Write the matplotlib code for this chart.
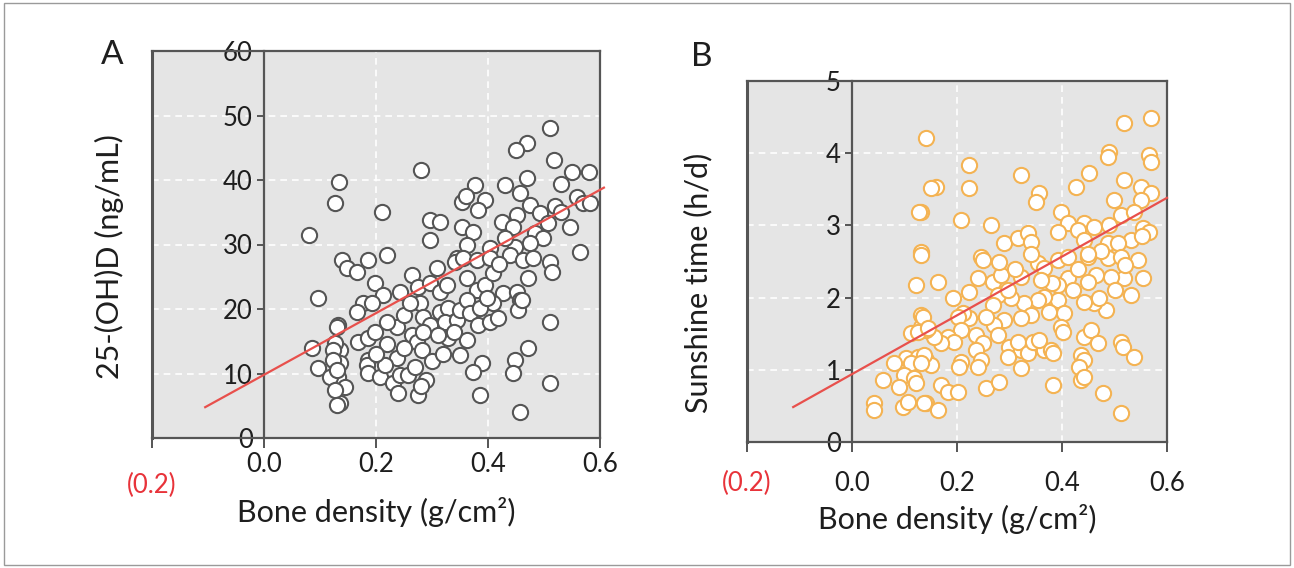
import matplotlib
matplotlib.use('Agg')

import matplotlib.pyplot as plt
import matplotlib.patches as patches
import matplotlib.transforms as mtransforms
import numpy as np

plt.rcParams['font.family'] = ['Lato', 'DejaVu Sans']

# panel A: bone density vs 25-(OH)D
a_x = [0.511, 0.47, 0.45, 0.518, 0.55, 0.58, 0.53, 0.28, 0.134, 0.127, 0.21, 0.296, 0.314, 0.296,
       0.377, 0.395, 0.354, 0.382, 0.43, 0.47, 0.457, 0.475, 0.425, 0.452, 0.445, 0.354, 0.373,
       0.362, 0.404, 0.493, 0.507, 0.546, 0.559, 0.57, 0.582, 0.484, 0.498, 0.475, 0.448, 0.564,
       0.22, 0.14, 0.186, 0.345, 0.148, 0.166, 0.264, 0.309, 0.341, 0.355, 0.38, 0.404, 0.44,
       0.462, 0.48, 0.511, 0.514, 0.471, 0.198, 0.212, 0.243, 0.275, 0.296, 0.314, 0.327, 0.362,
       0.38, 0.395, 0.409, 0.427, 0.452, 0.457, 0.454, 0.511, 0.471, 0.448, 0.445, 0.511, 0.457,
       0.389, 0.373, 0.386, 0.35, 0.275, 0.177, 0.193, 0.166, 0.132, 0.136, 0.136, 0.132, 0.145,
       0.136, 0.168, 0.186, 0.198, 0.186, 0.184, 0.186, 0.207, 0.23, 0.243, 0.257, 0.237, 0.264,
       0.273, 0.237, 0.279, 0.284, 0.296, 0.284, 0.314, 0.329, 0.323, 0.345, 0.35, 0.362, 0.368,
       0.382, 0.404, 0.418, 0.409, 0.386, 0.329, 0.362, 0.282, 0.216, 0.096, 0.086, 0.096, 0.13,
       0.127, 0.123, 0.123, 0.118, 0.13, 0.127, 0.13, 0.08, 0.398, 0.25, 0.26, 0.22, 0.30, 0.32,
       0.27, 0.25, 0.31, 0.34, 0.22, 0.20, 0.24, 0.29, 0.28, 0.52, 0.53, 0.42, 0.43, 0.36, 0.46]
a_y = [48.1, 45.7, 44.6, 43.1, 41.2, 41.2, 39.4, 41.5, 39.7, 36.4, 35.0, 33.8, 33.5, 30.7,
       39.2, 36.9, 36.6, 35.3, 39.2, 40.3, 38.0, 36.1, 33.5, 34.6, 32.7, 32.7, 31.9,
       29.9, 29.5, 34.9, 33.3, 32.7, 37.4, 36.4, 36.4, 31.8, 31.0, 30.2, 29.6, 28.8,
       28.4, 27.6, 27.6, 27.9, 26.4, 25.7, 25.3, 26.4, 27.3, 27.9, 27.6, 27.9, 28.4,
       27.6, 27.9, 27.3, 25.7, 24.8, 24.0, 22.2, 22.6, 23.4, 24.0, 22.6, 23.7, 24.8,
       22.9, 23.7, 25.6, 22.5, 22.6, 21.4, 19.8, 18.0, 14.0, 12.1, 10.1, 8.5, 4.0,
       11.6, 10.2, 6.7, 12.9, 6.7, 20.9, 20.9, 19.5, 17.5, 13.6, 11.6, 9.5, 7.9,
       5.4, 14.9, 15.5, 16.4, 12.1, 11.3, 10.1, 9.5, 8.5, 9.8, 9.8, 17.2, 16.0,
       14.9, 12.4, 20.9, 18.8, 17.5, 16.4, 19.5, 20.2, 18.0, 18.3, 19.8, 21.4, 19.4,
       17.5, 18.0, 18.6, 20.9, 20.2, 15.5, 15.2, 13.6, 11.3, 21.7, 14.0, 10.9, 17.2,
       14.7, 13.6, 12.1, 9.5, 10.5, 7.4, 5.1, 31.5, 21.7, 19.0, 21.0, 18.0, 12.0, 13.0,
       11.0, 14.0, 16.0, 16.5, 14.5, 13.0, 7.0, 9.0, 8.0, 36.0, 35.0, 27.0, 31.0, 37.5, 21.4]

# panel B: bone density vs sunshine time
b_x = [0.57, 0.518, 0.49, 0.488, 0.566, 0.57, 0.451, 0.518, 0.427, 0.322, 0.223, 0.223, 0.16,
       0.141, 0.356, 0.35, 0.499, 0.55, 0.57, 0.55, 0.398, 0.411, 0.392, 0.442, 0.43, 0.461,
       0.49, 0.512, 0.537, 0.554, 0.566, 0.531, 0.208, 0.265, 0.29, 0.316, 0.335, 0.341, 0.442,
       0.488, 0.507, 0.246, 0.131, 0.131, 0.25, 0.164, 0.24, 0.269, 0.284, 0.322, 0.354, 0.366,
       0.392, 0.411, 0.45, 0.488, 0.512, 0.545, 0.554, 0.518, 0.493, 0.465, 0.45, 0.411, 0.392,
       0.531, 0.484, 0.461, 0.442, 0.392, 0.366, 0.354, 0.404, 0.398, 0.402, 0.375, 0.328, 0.341,
       0.322, 0.303, 0.278, 0.297, 0.269, 0.29, 0.27, 0.255, 0.223, 0.192, 0.223, 0.211, 0.202,
       0.208, 0.183, 0.194, 0.17, 0.156, 0.141, 0.236, 0.25, 0.236, 0.278, 0.299, 0.322, 0.316,
       0.335, 0.345, 0.366, 0.356, 0.379, 0.383, 0.322, 0.297, 0.208, 0.204, 0.246, 0.24, 0.255,
       0.28, 0.442, 0.455, 0.468, 0.436, 0.442, 0.432, 0.436, 0.383, 0.478, 0.512, 0.516, 0.537,
       0.512, 0.131, 0.131, 0.141, 0.15, 0.17, 0.183, 0.202, 0.141, 0.164, 0.131, 0.122, 0.135,
       0.112, 0.126, 0.145, 0.103, 0.126, 0.137, 0.08, 0.112, 0.131, 0.099, 0.118, 0.122, 0.059,
       0.09, 0.042, 0.042, 0.097, 0.107, 0.137, 0.128, 0.15, 0.553, 0.52, 0.475, 0.50, 0.47,
       0.43, 0.42, 0.45, 0.34, 0.31, 0.28, 0.38, 0.36, 0.442]
b_y = [4.49, 4.42, 4.02, 3.95, 3.97, 3.88, 3.73, 3.63, 3.53, 3.70, 3.84, 3.52, 3.53,
       4.21, 3.45, 3.32, 3.35, 3.53, 3.45, 3.35, 3.19, 3.03, 2.91, 3.03, 2.94, 2.98,
       3.00, 3.14, 3.19, 2.96, 2.91, 2.80, 3.07, 3.00, 2.76, 2.83, 2.90, 2.77, 2.80,
       2.76, 2.76, 2.56, 3.19, 2.63, 2.52, 2.22, 2.27, 2.22, 2.31, 2.29, 2.48, 2.41,
       2.52, 2.56, 2.56, 2.55, 2.56, 2.52, 2.27, 2.27, 2.29, 2.31, 2.22, 2.27, 2.17,
       2.04, 1.83, 1.93, 1.94, 1.97, 2.01, 1.97, 1.79, 1.59, 1.52, 1.80, 1.93, 1.76,
       1.72, 1.99, 2.04, 2.11, 1.90, 1.69, 1.62, 1.73, 2.08, 1.99, 1.72, 1.79, 1.73,
       1.55, 1.45, 1.39, 1.37, 1.45, 1.55, 1.48, 1.37, 1.27, 1.48, 1.32, 1.27, 1.39,
       1.23, 1.39, 1.27, 1.41, 1.27, 1.23, 1.02, 1.18, 1.11, 1.04, 1.14, 1.04, 0.75,
       0.83, 1.45, 1.55, 1.37, 1.20, 1.14, 1.04, 0.86, 0.79, 0.68, 1.39, 1.32, 1.18,
       0.40, 1.76, 1.59, 1.14, 1.07, 0.79, 0.69, 0.69, 0.54, 0.44, 2.59, 2.17, 1.73,
       1.51, 1.52, 1.58, 1.16, 1.18, 1.20, 1.09, 1.09, 1.09, 0.93, 0.89, 0.82, 0.86,
       0.76, 0.54, 0.44, 0.48, 0.55, 0.54, 3.19, 3.52, 2.85, 2.45, 2.65, 2.10, 2.00,
       2.40, 2.10, 2.60, 2.60, 2.40, 2.50, 2.20, 2.25, 0.90]

# fitted lines (x range, intercept, slope)
a_fit_x = [-0.105, 0.607]
a_fit = (9.8, 47.8)
b_fit_x = [-0.112, 0.60]
b_fit = (0.94, 4.07)

x_ticks = [-0.2, 0.0, 0.2, 0.4, 0.6]
x_labels = ['', '0.0', '0.2', '0.4', '0.6']

fig = plt.figure(figsize=(12.94, 5.68), dpi=100)
fig.patches.append(patches.Rectangle((0.003, 0.005), 0.994, 0.99, transform=fig.transFigure,
                                     fill=False, edgecolor='#9a9a9a', linewidth=1.0))

EDGE = '#555555'
TXT = '#1e1e1e'


def setup_panel(ax, xs, ys, fit_x, fit, ymax, yticks, ylabel, edgecolor, xpad, neg_off, xlab_off, ylab_pos):
    ax.set_facecolor('#e5e5e5')
    ax.set_xlim(-0.2, 0.6)
    ax.set_ylim(0, ymax)
    for sp in ax.spines.values():
        sp.set_color(EDGE)
        sp.set_linewidth(1.6)
    ax.spines['left'].set_position(('data', 0))
    ax.axvline(-0.2, color=EDGE, lw=2.2, clip_on=False, zorder=4)
    ax.grid(True, color='white', linestyle=(0, (4, 3)), linewidth=1.2)
    ax.set_axisbelow(True)

    ax.scatter(xs, ys, s=120, facecolor='white', edgecolor=edgecolor, linewidth=1.5, zorder=2)
    fx = np.array(fit_x)
    ax.plot(fx, fit[0] + fit[1] * fx, color='#e8504c', lw=1.6, zorder=3, clip_on=False)

    ax.set_xticks(x_ticks)
    ax.set_xticklabels(x_labels)
    ax.set_yticks(yticks)
    ax.tick_params(axis='both', colors=EDGE, labelcolor=TXT, labelsize=18.5, width=1.4)
    ax.tick_params(axis='x', length=7, pad=xpad)
    ax.tick_params(axis='y', length=5, pad=3)

    trans = mtransforms.blended_transform_factory(ax.transData, ax.transAxes)
    ax.text(-0.2, neg_off, '(0.2)', color='#e8333a', fontsize=18.5, ha='center', va='center',
            transform=trans)
    ax.set_xlabel('Bone density (g/cm²)', fontsize=22, color=TXT, va='center')
    ax.xaxis.set_label_coords(0.5, xlab_off)
    ax.set_ylabel(ylabel, fontsize=22, color=TXT, va='center')
    ax.yaxis.set_label_coords(*ylab_pos)


axA = fig.add_axes([152 / 1294, 130 / 568, 448 / 1294, 387 / 568])
setup_panel(axA, a_x, a_y, a_fit_x, a_fit, 60, [0, 10, 20, 30, 40, 50, 60], '25-(OH)D (ng/mL)',
            EDGE, 3, -47 / 387, -74 / 387, (-0.094, 0.47))

axB = fig.add_axes([747 / 1294, 126 / 568, 420 / 1294, 361 / 568])
setup_panel(axB, b_x, b_y, b_fit_x, b_fit, 5, [0, 1, 2, 3, 4, 5], 'Sunshine time (h/d)',
            '#f4b353', 14, -41 / 361, -77 / 361, (-0.117, 0.44))

fig.text(112 / 1294, 1 - 55 / 568, 'A', fontsize=24, ha='center', va='center', color=TXT)
fig.text(702 / 1294, 1 - 57 / 568, 'B', fontsize=24, ha='center', va='center', color=TXT)

plt.savefig('out.png', dpi=100)
